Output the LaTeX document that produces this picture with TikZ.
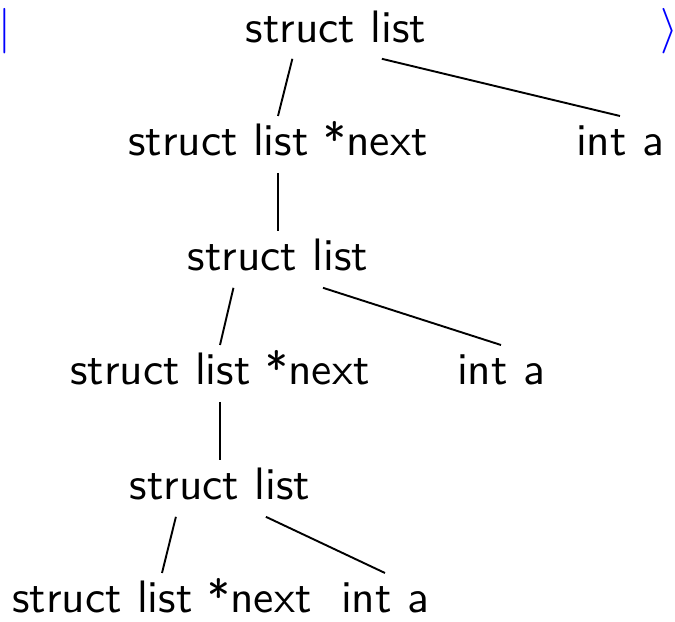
\documentclass[tikz,border=0pt]{standalone}
\begin{document}
\begin{tikzpicture}[x=0.22pt,y=-0.22pt,
  every node/.style={font=\sffamily, inner sep=0pt, anchor=base},
  treenode/.style={text height=8.6pt, text depth=3.5pt},
  edge/.style={draw, line width=0.42pt}]
\useasboundingbox (0,0) rectangle (675,622);
% delimiters framing the tree
\node[text=blue] (lbar) at (5,42) {$|$};
\node[text=blue] (rang) at (669,42) {$\rangle$};
% nodes
\node[treenode] (root) at (336,42) {struct list};
\node[treenode] (n2) at (278,156) {struct list *next};
\node[treenode] (a2) at (620,156) {int a};
\node[treenode] (n3) at (278,271) {struct list};
\node[treenode] (n4) at (220,385) {struct list *next};
\node[treenode] (a4) at (501,385) {int a};
\node[treenode] (n5) at (220,500) {struct list};
\node[treenode] (n6) at (162,613) {struct list *next};
\node[treenode] (a6) at (385,613) {int a};
% edges
\path[edge] ([xshift=-9.6pt]root.south) -- (n2.north);
\path[edge] ([xshift=10.1pt]root.south) -- (a2.north);
\path[edge] (n2.south) -- (n3.north);
\path[edge] ([xshift=-9.8pt]n3.south) -- (n4.north);
\path[edge] ([xshift=9.9pt]n3.south) -- (a4.north);
\path[edge] (n4.south) -- (n5.north);
\path[edge] ([xshift=-9.7pt]n5.south) -- (n6.north);
\path[edge] ([xshift=10.1pt]n5.south) -- (a6.north);
\end{tikzpicture}
\end{document}
